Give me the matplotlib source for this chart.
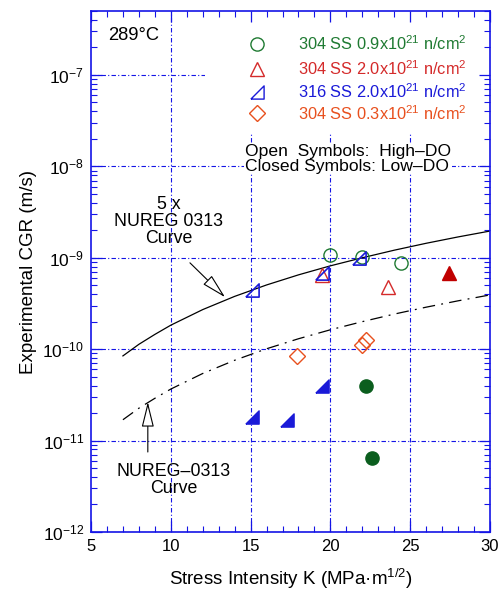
import numpy as np
import matplotlib
matplotlib.use("Agg")
import matplotlib.pyplot as plt
from matplotlib.patches import Rectangle
from matplotlib.ticker import FixedLocator, FuncFormatter, LogLocator, NullFormatter

plt.rcParams['font.family'] = ['Liberation Sans', 'DejaVu Sans']
plt.rcParams['mathtext.fontset'] = 'custom'
plt.rcParams['mathtext.rm'] = 'Liberation Sans'
plt.rcParams['mathtext.it'] = 'Liberation Sans:italic'
plt.rcParams['mathtext.bf'] = 'Liberation Sans:bold'
plt.rcParams['mathtext.default'] = 'regular'

# ---- data ----
k_304_09_high = [20.0, 22.0, 24.4]
cgr_304_09_high = [1.07e-9, 1.02e-9, 8.8e-10]
k_304_09_low = [22.2, 22.6]
cgr_304_09_low = [3.95e-11, 6.45e-12]

k_304_20_high = [19.5, 23.6]
cgr_304_20_high = [6.5e-10, 4.8e-10]
k_304_20_low = [27.4]
cgr_304_20_low = [6.8e-10]

k_316_20_high = [15.1, 19.5, 21.8]
cgr_316_20_high = [4.45e-10, 6.8e-10, 1.0e-9]
k_316_20_low = [15.1, 17.25, 19.5]
cgr_316_20_low = [1.81e-11, 1.68e-11, 3.95e-11]

k_304_03_high = [17.9, 22.0, 22.25]
cgr_304_03_high = [8.4e-11, 1.11e-10, 1.26e-10]

curve_k = [7, 8, 9, 10, 12, 14, 16, 18, 20, 22, 24, 26, 28, 30]
curve_5x = [8.44e-11, 1.13e-10, 1.45e-10, 1.83e-10, 2.71e-10, 3.78e-10, 5.04e-10,
            6.50e-10, 8.16e-10, 1.00e-9, 1.21e-9, 1.44e-9, 1.69e-9, 1.96e-9]
curve_nureg = [1.69e-11, 2.26e-11, 2.90e-11, 3.66e-11, 5.42e-11, 7.56e-11, 1.01e-10,
               1.30e-10, 1.63e-10, 2.00e-10, 2.42e-10, 2.88e-10, 3.38e-10, 3.92e-10]

legend_labels = ['304 SS 0.9x10$^{21}$ n/cm$^{2}$',
                 '304 SS 2.0x10$^{21}$ n/cm$^{2}$',
                 '316 SS 2.0x10$^{21}$ n/cm$^{2}$',
                 '304 SS 0.3x10$^{21}$ n/cm$^{2}$']

# ---- styles ----
BLUE_AX = '#1414e6'
GREEN = '#1f7a32'
GREEN_F = '#0b5e1e'
RED = '#d42a2a'
RED_F = '#c00000'
BLUE = '#1a1ad8'
ORANGE = '#e8501e'
tri316 = [(-1, -1), (1, -1), (1, 1), (-1, -1)]

fig = plt.figure(figsize=(5.0, 5.94), dpi=100)
ax = fig.add_axes([0.182, 0.1044, 0.798, 0.877])
ax.set_yscale('log')
ax.set_xlim(5, 30)
ax.set_ylim(1e-12, 5e-7)

# grid
for v in [1e-12, 1e-11, 1e-10, 1e-9, 1e-8, 1e-7]:
    ax.axhline(v, color=BLUE_AX, lw=0.8, ls=(0, (4, 2, 1, 2)), zorder=1)
for v in [10, 15, 20, 25]:
    ax.axvline(v, color=BLUE_AX, lw=0.8, ls=(0, (4, 2, 1, 2)), zorder=1)

# white region hiding grid behind legend
ax.add_patch(Rectangle((0.286, 0.766), 0.714, 0.234, transform=ax.transAxes,
                       facecolor='white', edgecolor='none', zorder=1.5))

# curves
ax.plot(curve_k, curve_5x, color='black', lw=0.9, zorder=2)
ax.plot(curve_k, curve_nureg, color='black', lw=0.9, ls=(0, (10, 5, 1.5, 5)), zorder=2)

ms = 9.5
# data
ax.plot(k_304_09_high, cgr_304_09_high, 'o', ms=ms, mfc='none', mec=GREEN, mew=1.0, zorder=3)
ax.plot(k_304_09_low, cgr_304_09_low, 'o', ms=ms, mfc=GREEN_F, mec=GREEN_F, mew=1.0, zorder=3)
ax.plot(k_304_20_high, cgr_304_20_high, '^', ms=ms + 1, mfc='none', mec=RED, mew=1.0, zorder=3)
ax.plot(k_304_20_low, cgr_304_20_low, '^', ms=ms + 1, mfc=RED_F, mec=RED_F, mew=1.0, zorder=3)
ax.plot(k_316_20_high, cgr_316_20_high, marker=tri316, ls='none', ms=ms, mfc='none', mec=BLUE, mew=1.2, zorder=3)
ax.plot(k_316_20_low, cgr_316_20_low, marker=tri316, ls='none', ms=ms, mfc=BLUE, mec=BLUE, mew=1.0, zorder=3)
ax.plot(k_304_03_high, cgr_304_03_high, 'D', ms=ms - 1.5, mfc='none', mec=ORANGE, mew=1.0, zorder=3)

# legend (manual)
leg_y = [0.937, 0.889, 0.845, 0.804]
leg_styles = [dict(marker='o', mec=GREEN, ms=ms),
              dict(marker='^', mec=RED, ms=ms + 1),
              dict(marker=tri316, mec=BLUE, ms=ms),
              dict(marker='D', mec=ORANGE, ms=ms - 1.5)]
leg_colors = [GREEN, RED, BLUE, ORANGE]
for yy, st, lab, c in zip(leg_y, leg_styles, legend_labels, leg_colors):
    ax.plot([0.416], [yy], transform=ax.transAxes, ls='none', mfc='none', mew=1.0,
            zorder=4, clip_on=False, **st)
    ax.text(0.519, yy, lab, transform=ax.transAxes, color=c, fontsize=11.8,
            va='center', ha='left', zorder=4)

ax.text(0.386, 0.716, 'Open  Symbols:  High\u2013DO\nClosed Symbols: Low\u2013DO',
        transform=ax.transAxes, fontsize=12.6, va='center', ha='left', linespacing=0.92,
        zorder=4, bbox=dict(facecolor='white', edgecolor='none', pad=0.5))

ax.text(0.043, 0.954, '289\u00b0C', transform=ax.transAxes, fontsize=13.2, va='center', ha='left')

# annotations
arrow_style = '-|>,head_length=1.3,head_width=0.32'
ax.text(9.875, 2.47e-9, '5 x\nNUREG 0313\nCurve', ha='center', va='center',
        fontsize=12.8, linespacing=1.0)
ax.annotate('', xy=(13.4, 3.7e-10), xytext=(11.2, 8.8e-10),
            arrowprops=dict(arrowstyle=arrow_style, mutation_scale=12, fc='white',
                            ec='black', lw=0.8, shrinkA=0, shrinkB=0))
ax.annotate('', xy=(8.56, 2.64e-11), xytext=(8.56, 7.5e-12),
            arrowprops=dict(arrowstyle=arrow_style, mutation_scale=12, fc='white',
                            ec='black', lw=0.8, shrinkA=0, shrinkB=0))
ax.text(10.19, 3.75e-12, 'NUREG\u20130313\nCurve', ha='center', va='center',
        fontsize=12.8, linespacing=1.0)

# axes styling
for s in ax.spines.values():
    s.set_color(BLUE_AX)
    s.set_linewidth(1.2)
ax.xaxis.set_major_locator(FixedLocator([5, 10, 15, 20, 25, 30]))
ax.xaxis.set_minor_locator(FixedLocator(np.arange(5, 31, 1)))
ax.yaxis.set_major_locator(LogLocator(base=10, numticks=20))
ax.yaxis.set_minor_locator(LogLocator(base=10, subs=np.arange(2, 10), numticks=50))
ax.yaxis.set_minor_formatter(NullFormatter())
ax.yaxis.set_major_formatter(FuncFormatter(lambda v, p: '10$^{%d}$' % int(round(np.log10(v)))))
ax.tick_params(which='both', direction='in', top=True, right=True, color=BLUE_AX,
               labelcolor='black')
ax.tick_params(axis='x', labelsize=12)
ax.tick_params(axis='y', labelsize=12.5)
ax.tick_params(which='major', length=8, width=0.9, pad=5)
ax.tick_params(which='minor', length=4, width=0.8)

ax.set_xlabel('Stress Intensity K (MPa\u00b7m$^{1/2}$)', fontsize=13.5, labelpad=9)
ax.set_ylabel('Experimental CGR (m/s)', fontsize=13.5, labelpad=4)

fig.savefig('out.png', dpi=100)
